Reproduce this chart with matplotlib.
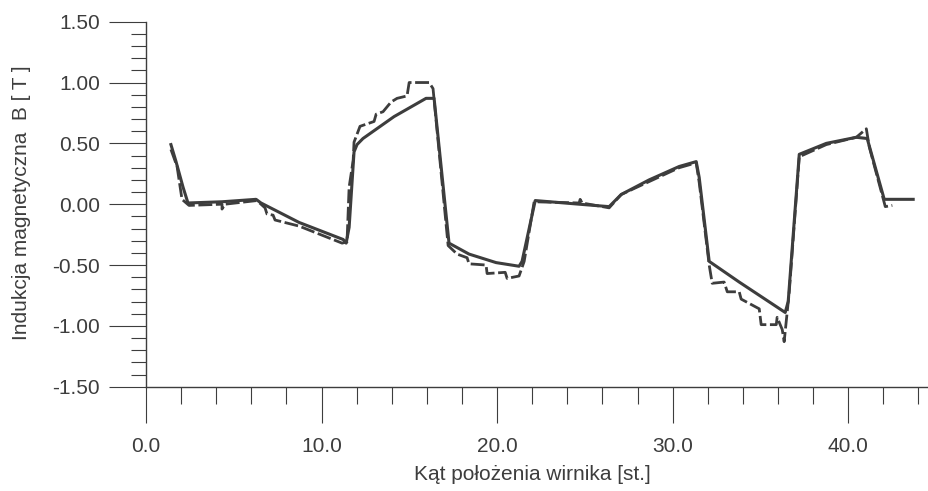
import numpy as np
import matplotlib
matplotlib.use('Agg')
import matplotlib.pyplot as plt
from matplotlib.ticker import MultipleLocator, FormatStrFormatter

plt.rcParams.update({'font.family': ['Liberation Sans', 'DejaVu Sans'],
                     'font.size': 15, 'axes.unicode_minus': False})

# measured curve (solid)
kat_pom = [1.42, 1.71, 2.11, 2.39, 4.33, 6.27, 6.55, 8.72, 11.23, 11.40, 11.57,
           11.85, 12.02, 12.36, 14.13, 15.95, 16.41, 17.26, 18.40, 19.94, 21.25,
           21.42, 22.17, 24.67, 26.38, 27.07, 28.66, 30.37, 31.34, 31.51, 32.08,
           33.79, 36.41, 36.58, 37.21, 38.75, 40.46, 41.08, 42.05, 43.70]
B_pom = [0.49, 0.35, 0.14, 0.01, 0.02, 0.04, 0.01, -0.15, -0.29, -0.32, -0.19,
         0.43, 0.49, 0.54, 0.72, 0.87, 0.87, -0.32, -0.41, -0.48, -0.51,
         -0.47, 0.03, 0.00, -0.02, 0.08, 0.20, 0.31, 0.35, 0.22, -0.47,
         -0.64, -0.89, -0.80, 0.41, 0.50, 0.55, 0.54, 0.04, 0.04]

# computed curve (dashed, stepped)
kat_obl = [1.42, 1.77, 2.05, 2.45, 4.33, 4.33, 4.50, 6.32, 6.78, 6.89, 7.24, 7.35,
           8.72, 11.17, 11.45, 11.57, 11.80, 11.85, 12.19, 12.99, 13.11, 13.50,
           13.96, 14.30, 14.87, 14.99, 16.13, 16.35, 17.21, 17.72, 18.29, 18.40,
           19.37, 19.43, 20.46, 20.57, 21.25, 21.54, 22.11, 24.67, 24.73, 24.84,
           26.38, 27.07, 30.37, 31.34, 31.51, 32.08, 32.25, 32.93, 33.11, 33.79,
           33.90, 34.93, 35.04, 35.90, 35.95, 36.24, 36.35, 36.64, 37.21, 38.75,
           40.46, 41.03, 41.20, 42.00, 42.11, 42.51]
B_obl = [0.45, 0.31, 0.04, -0.01, 0.00, -0.04, 0.00, 0.03, -0.03, -0.08, -0.09, -0.13,
         -0.18, -0.32, -0.31, 0.14, 0.36, 0.51, 0.64, 0.68, 0.74, 0.76,
         0.84, 0.87, 0.89, 1.00, 1.00, 0.95, -0.34, -0.41, -0.44, -0.49,
         -0.50, -0.57, -0.56, -0.61, -0.59, -0.47, 0.02, 0.01, 0.04, 0.01,
         -0.03, 0.08, 0.30, 0.34, 0.18, -0.50, -0.65, -0.64, -0.72, -0.72,
         -0.78, -0.86, -0.99, -0.99, -0.93, -1.03, -1.13, -0.72, 0.39, 0.49,
         0.55, 0.62, 0.47, 0.04, -0.02, -0.01]

kolor = '#3d3d3d'

fig = plt.figure(figsize=(9.29, 4.91), dpi=100)
ax = fig.add_axes([146/929, 1-386.7/491, 1-146/929, (386.7-21.7)/491])

ax.plot(kat_obl, B_obl, color=kolor, lw=2.0, ls=(0, (5, 1.3)))
ax.plot(kat_pom, B_pom, color=kolor, lw=2.2)

ax.set_xlim(0, 44.6)
ax.set_ylim(-1.5, 1.5)
for s in ['top', 'right']:
    ax.spines[s].set_visible(False)
for s in ['left', 'bottom']:
    ax.spines[s].set_color(kolor)
    ax.spines[s].set_linewidth(1.0)

ax.xaxis.set_major_locator(MultipleLocator(10))
ax.xaxis.set_minor_locator(MultipleLocator(2))
ax.yaxis.set_major_locator(MultipleLocator(0.5))
ax.yaxis.set_minor_locator(MultipleLocator(0.1))
ax.xaxis.set_major_formatter(FormatStrFormatter('%.1f'))
ax.yaxis.set_major_formatter(FormatStrFormatter('%.2f'))

ax.tick_params(axis='x', which='major', length=26, width=0.8, pad=10, colors=kolor)
ax.tick_params(axis='x', which='minor', length=12, width=0.8, colors=kolor)
ax.tick_params(axis='y', which='major', length=27, width=0.8, pad=6, colors=kolor)
ax.tick_params(axis='y', which='minor', length=11, width=0.8, colors=kolor)

fig.text(22/929, 1-203/491, 'Indukcja magnetyczna  B [ T ]', rotation=90,
         ha='center', va='center', color=kolor, fontsize=15)
fig.text(532/929, 1-474/491, 'Kąt położenia wirnika [st.]',
         ha='center', va='center', color=kolor, fontsize=15)

fig.savefig('out.png', dpi=100)
